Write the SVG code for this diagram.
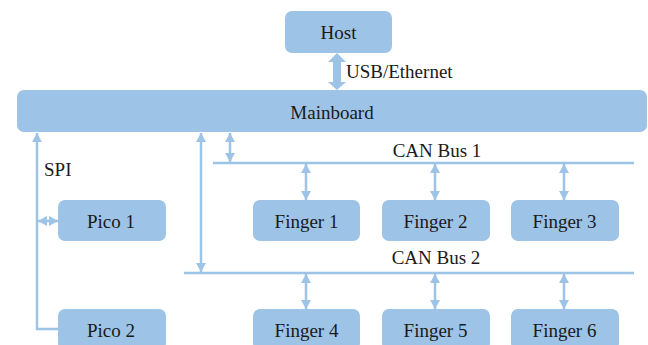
<svg xmlns="http://www.w3.org/2000/svg" width="648" height="345" viewBox="0 0 648 345">
<style>
.box{fill:#9DC3E6;}
text{font-family:'Liberation Serif','Times New Roman',serif;font-size:19px;fill:#1a1a1a;}
.t{text-anchor:middle;}
.ln{stroke:#9DC3E6;stroke-width:2.5;fill:none;}
.bus{stroke:#9DC3E6;stroke-width:2.5;fill:none;}
</style>
<defs>
<marker id="ah" markerUnits="userSpaceOnUse" markerWidth="9" markerHeight="10" refX="9" refY="5" orient="auto-start-reverse" viewBox="0 0 9 10">
<path d="M0,0 L9,5 L0,10 z" fill="#9DC3E6"/>
</marker>
</defs>
<g id="host"><rect class="box" x="285" y="11" width="107" height="42" rx="7"/><text class="t" x="338.5" y="39">Host</text></g>
<g id="mainboard"><rect class="box" x="17" y="90" width="630" height="42" rx="7"/><text class="t" x="332" y="119">Mainboard</text></g>
<g id="pico1"><rect class="box" x="58" y="200" width="108" height="41" rx="7"/><text class="t" x="111" y="228">Pico 1</text></g>
<g id="pico2"><rect class="box" x="58" y="309" width="108" height="41" rx="7"/><text class="t" x="111" y="337">Pico 2</text></g>
<g id="finger1"><rect class="box" x="253" y="200" width="107" height="41" rx="7"/><text class="t" x="306.5" y="228">Finger 1</text></g>
<g id="finger2"><rect class="box" x="382" y="200" width="108" height="41" rx="7"/><text class="t" x="435.5" y="228">Finger 2</text></g>
<g id="finger3"><rect class="box" x="511" y="200" width="108" height="41" rx="7"/><text class="t" x="564.5" y="228">Finger 3</text></g>
<g id="finger4"><rect class="box" x="253" y="309" width="107" height="41" rx="7"/><text class="t" x="306.5" y="337">Finger 4</text></g>
<g id="finger5"><rect class="box" x="382" y="309" width="108" height="41" rx="7"/><text class="t" x="435.5" y="337">Finger 5</text></g>
<g id="finger6"><rect class="box" x="511" y="309" width="108" height="41" rx="7"/><text class="t" x="564.5" y="337">Finger 6</text></g>
<g id="connectors">
<polygon fill="#9DC3E6" points="337,53 346,62 341,62 341,82 346,82 337,90 328,82 333,82 333,62 328,62"/>
<text x="346" y="78">USB/Ethernet</text>
<line class="bus" x1="213" y1="163" x2="634" y2="163"/>
<line class="bus" x1="184" y1="273" x2="634" y2="273"/>
<text class="t" x="437" y="157">CAN Bus 1</text>
<text class="t" x="436" y="264">CAN Bus 2</text>
<line class="ln" x1="230" y1="133" x2="230" y2="162" marker-start="url(#ah)" marker-end="url(#ah)"/>
<line class="ln" x1="201" y1="133" x2="201" y2="272" marker-start="url(#ah)" marker-end="url(#ah)"/>
<line class="ln" x1="306" y1="164" x2="306" y2="200" marker-start="url(#ah)" marker-end="url(#ah)"/>
<line class="ln" x1="435" y1="164" x2="435" y2="200" marker-start="url(#ah)" marker-end="url(#ah)"/>
<line class="ln" x1="564" y1="164" x2="564" y2="200" marker-start="url(#ah)" marker-end="url(#ah)"/>
<line class="ln" x1="306" y1="274" x2="306" y2="309" marker-start="url(#ah)" marker-end="url(#ah)"/>
<line class="ln" x1="435" y1="274" x2="435" y2="309" marker-start="url(#ah)" marker-end="url(#ah)"/>
<line class="ln" x1="564" y1="274" x2="564" y2="309" marker-start="url(#ah)" marker-end="url(#ah)"/>
<path class="ln" d="M58,329 L37,329 L37,133" marker-end="url(#ah)"/>
<line class="ln" x1="38" y1="221" x2="58" y2="221" marker-start="url(#ah)" marker-end="url(#ah)"/>
<text x="44" y="176">SPI</text>
</g>
</svg>
